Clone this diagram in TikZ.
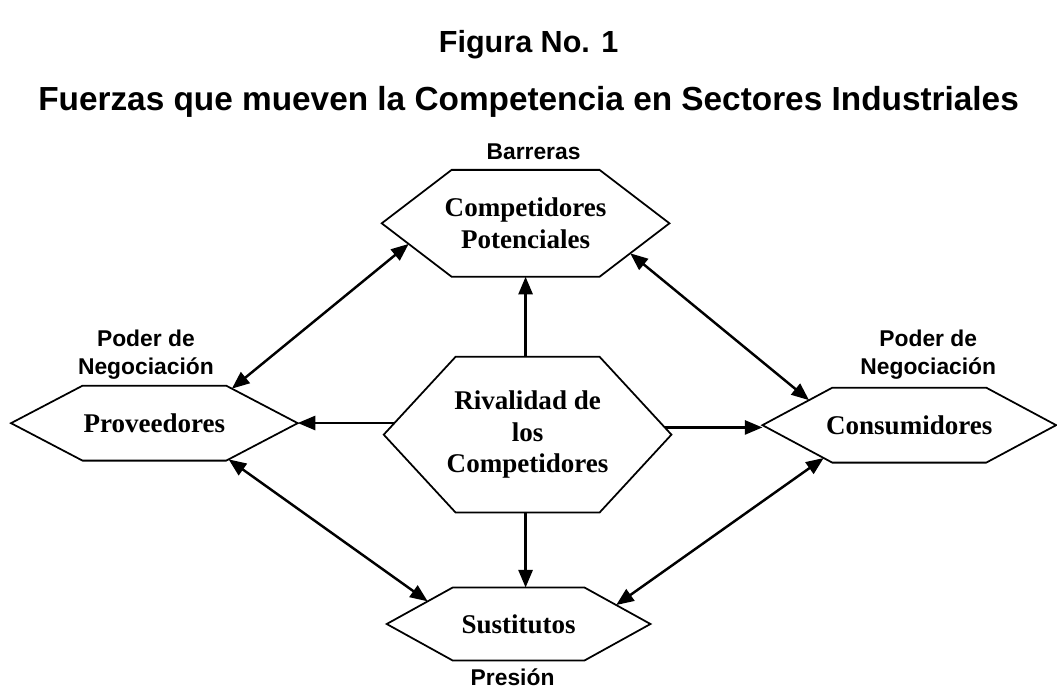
\documentclass[tikz,border=0pt]{standalone}
\usepackage{fontspec}
\setmainfont{Liberation Serif}
\setsansfont{Liberation Sans}
\usetikzlibrary{shapes.symbols, arrows.meta, positioning}

\begin{document}
\begin{tikzpicture}[x=0.02cm, y=-0.02cm]
    \tikzstyle{hexa} = [signal, signal to=east and west, draw, line width=1pt, inner xsep=-30pt, outer sep=0pt, align=center, font=\fontsize{15.4}{17.8}\selectfont\bfseries]
    \tikzstyle{lbl} = [inner sep=0pt, align=center, font=\sffamily\bfseries\fontsize{13}{16}\selectfont]
    \tikzstyle{ttl} = [inner sep=0pt, anchor=base, font=\sffamily\bfseries\fontsize{19}{23}\selectfont]
    \tikzstyle{arr} = [-{Triangle[length=10pt, width=8pt]}, line width=1.4pt]
    \tikzstyle{darr} = [{Triangle[length=10pt, width=8pt]}-{Triangle[length=10pt, width=8pt]}, line width=1.4pt]

    \fill[white] (0,0) rectangle (1057,692);

    \node[ttl, font=\sffamily\bfseries\fontsize{17.4}{21}\selectfont] (fig) at (529,53) {Figura No. 1};
    \node[ttl] (tit) at (529,111) {Fuerzas que mueven la Competencia en Sectores Industriales};

    \node[hexa, minimum width=5.76cm, minimum height=2.14cm, signal pointer angle=74.8] (comp) at (526,223.5) {Competidores\\Potenciales};
    \node[hexa, minimum width=5.74cm, minimum height=1.5cm, signal pointer angle=55.3] (prov) at (154.5,423.5) {Proveedores};
    \node[hexa, minimum width=5.76cm, minimum height=3.12cm, signal pointer angle=94.6] (riv) at (528,435) {Rivalidad de\\los\\Competidores};
    \node[hexa, minimum width=5.88cm, minimum height=1.5cm, signal pointer angle=56.4] (cons) at (910,425.5) {Consumidores};
    \node[hexa, minimum width=5.28cm, minimum height=1.46cm, signal pointer angle=57.9] (sust) at (519,624.5) {Sustitutos};

    \node[lbl, above=0.2cm of comp, xshift=0.16cm] (barr) {Barreras};
    \node[lbl, above=0.12cm of prov, xshift=-0.17cm] (negL) {Poder de\\Negociación};
    \node[lbl, above=0.16cm of cons, xshift=0.38cm] (negR) {Poder de\\Negociación};
    \node[lbl, below=0.16cm of sust, xshift=-0.12cm] (pres) {Presión};

    % rivalidad hacia las cuatro fuerzas
    \draw[arr] (comp.south |- riv.north) -- (comp.south);
    \draw[arr] (comp.south |- riv.south) -- (comp.south |- sust.north);
    \draw[arr] (riv.175) -- (riv.175 -| prov.east);
    \draw[arr] (riv.3) -- (riv.3 -| cons.west);

    % relaciones entre fuerzas
    \draw[darr] (prov.24) -- (comp.190);
    \draw[darr] (comp.344) -- (cons.166);
    \draw[darr] (prov.334) -- (sust.166);
    \draw[darr] (cons.201) -- (sust.11);
\end{tikzpicture}
\end{document}
